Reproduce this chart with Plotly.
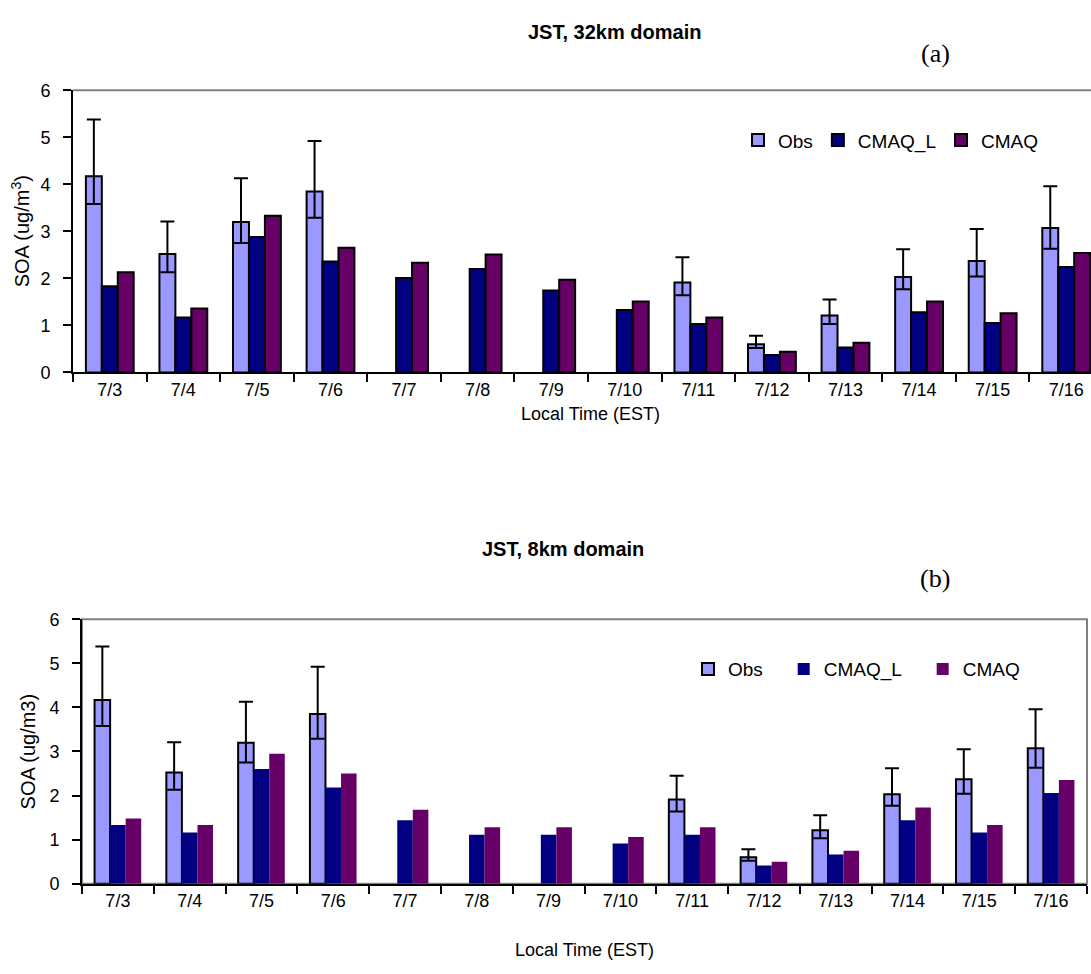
import plotly.graph_objects as go

W, H = 1091, 974

dates = ["7/3", "7/4", "7/5", "7/6", "7/7", "7/8", "7/9", "7/10",
         "7/11", "7/12", "7/13", "7/14", "7/15", "7/16"]

obs = [4.17, 2.52, 3.20, 3.85, None, None, None, None, 1.91, 0.60, 1.21, 2.03, 2.37, 3.07]
obs_upper = [5.38, 3.21, 4.13, 4.92, None, None, None, None, 2.45, 0.78, 1.55, 2.62, 3.05, 3.96]
obs_lower = [3.58, 2.13, 2.75, 3.29, None, None, None, None, 1.64, 0.52, 1.03, 1.77, 2.04, 2.63]

cmaq_l_32 = [1.83, 1.17, 2.88, 2.36, 2.01, 2.20, 1.74, 1.33, 1.03, 0.37, 0.53, 1.28, 1.05, 2.24]
cmaq_32 = [2.13, 1.36, 3.33, 2.65, 2.33, 2.51, 1.97, 1.51, 1.17, 0.44, 0.63, 1.51, 1.26, 2.54]
cmaq_l_8 = [1.33, 1.16, 2.60, 2.18, 1.44, 1.11, 1.11, 0.91, 1.11, 0.41, 0.66, 1.44, 1.16, 2.06]
cmaq_8 = [1.48, 1.33, 2.95, 2.50, 1.68, 1.28, 1.28, 1.06, 1.28, 0.50, 0.75, 1.73, 1.33, 2.35]

err_plus = [None if o is None else round(u - o, 3) for o, u in zip(obs, obs_upper)]
err_minus = [None if o is None else round(o - l, 3) for o, l in zip(obs, obs_lower)]

C_OBS, C_L, C_C = "#9999FF", "#000080", "#660066"
FONT = "Liberation Sans, Arial, sans-serif"
SERIF = "Liberation Serif, Times New Roman, serif"
NB = "\u00a0"


def px_x(p):
    return p / W


def px_y(p):
    return 1 - p / H


fig = go.Figure()

err = dict(type="data", symmetric=False, array=err_plus, arrayminus=err_minus,
           color="black", thickness=2, width=7)

# top chart (32 km)
fig.add_trace(go.Bar(x=dates, y=obs, name="Obs", marker=dict(color=C_OBS, line=dict(color="black", width=2)),
                     error_y=err, xaxis="x", yaxis="y", legend="legend"))
fig.add_trace(go.Bar(x=dates, y=cmaq_l_32, name="CMAQ_L", marker=dict(color=C_L, line=dict(color="black", width=2)),
                     xaxis="x", yaxis="y", legend="legend"))
fig.add_trace(go.Bar(x=dates, y=cmaq_32, name="CMAQ", marker=dict(color=C_C, line=dict(color="black", width=2)),
                     xaxis="x", yaxis="y", legend="legend"))

# bottom chart (8 km)
fig.add_trace(go.Bar(x=dates, y=obs, name="Obs" + NB * 3, marker=dict(color=C_OBS, line=dict(color="black", width=2)),
                     error_y=err, xaxis="x2", yaxis="y2", legend="legend2"))
fig.add_trace(go.Bar(x=dates, y=cmaq_l_8, name="CMAQ_L" + NB * 3, marker=dict(color=C_L, line=dict(width=0)),
                     xaxis="x2", yaxis="y2", legend="legend2"))
fig.add_trace(go.Bar(x=dates, y=cmaq_8, name="CMAQ", marker=dict(color=C_C, line=dict(width=0)),
                     xaxis="x2", yaxis="y2", legend="legend2"))

# geometry (pixels)
top_l, top_r, top_t, top_b = 73, 1091, 82, 370
cat_w_top = (1103 - 73) / 14.0
bot_l, bot_r, bot_t, bot_b = 82, 1087, 622, 892

tick_font = dict(family=FONT, size=18, color="black")
xcommon = dict(type="category", showline=True, linecolor="black", linewidth=2,
               ticks="outside", tickson="boundaries", ticklen=8, tickwidth=2, tickcolor="black",
               tickfont=tick_font, showgrid=False, zeroline=False, fixedrange=True)
ycommon = dict(range=[0, 6], dtick=1, showline=True, linecolor="black", linewidth=2,
               ticks="outside", ticklen=8, tickwidth=2, tickcolor="black", ticklabelstandoff=9,
               tickfont=tick_font, showgrid=False, zeroline=False, fixedrange=True)

fig.update_layout(
    width=W, height=H, autosize=False,
    margin=dict(l=0, r=0, t=0, b=0),
    paper_bgcolor="white", plot_bgcolor="white",
    barmode="group", bargap=0.35, bargroupgap=0,
    font=dict(family=FONT, color="black"),
    xaxis=dict(xcommon, domain=[px_x(top_l), px_x(top_r)], anchor="y",
               range=[-0.5, -0.5 + (top_r - top_l) / cat_w_top]),
    yaxis=dict(ycommon, domain=[px_y(top_b), px_y(top_t)], anchor="x"),
    xaxis2=dict(xcommon, domain=[px_x(bot_l), px_x(bot_r)], anchor="y2", range=[-0.5, 13.5]),
    yaxis2=dict(ycommon, domain=[px_y(bot_b), px_y(bot_t)], anchor="x2"),
    legend=dict(orientation="h", x=px_x(738), y=px_y(133), xanchor="left", yanchor="middle",
                font=dict(family=FONT, size=19, color="black"), bgcolor="rgba(0,0,0,0)"),
    legend2=dict(orientation="h", x=px_x(688), y=px_y(673), xanchor="left", yanchor="middle",
                 font=dict(family=FONT, size=19, color="black"), bgcolor="rgba(0,0,0,0)"),
    showlegend=True,
)

# plot-area borders (grey)
fig.add_shape(type="line", xref="paper", yref="paper",
              x0=px_x(top_l), x1=1, y0=px_y(top_t), y1=px_y(top_t),
              line=dict(color="#808080", width=2), layer="below")
fig.add_shape(type="rect", xref="paper", yref="paper",
              x0=px_x(bot_l), x1=px_x(bot_r), y0=px_y(bot_b), y1=px_y(bot_t),
              line=dict(color="#808080", width=2), layer="below")


def note(text, x, y, size, family=FONT, angle=0):
    return dict(text=text, x=px_x(x), y=px_y(y), xref="paper", yref="paper",
                showarrow=False, xanchor="center", yanchor="middle", textangle=angle,
                font=dict(family=family, size=size, color="black"))


ann = [
    note("<b>JST, 32km domain</b>", 614, 22, 20),
    note("(a)", 935, 44, 26, SERIF),
    note("<b>JST, 8km domain</b>", 563, 550, 20),
    note("(b)", 935, 580, 26, SERIF),
    note("SOA (ug/m<sup>3</sup>)", 20, 226, 20, angle=-90),
    note("SOA (ug/m3)", 28, 757, 20, angle=-90),
    note("Local Time (EST)", 590, 412, 18),
    note("Local Time (EST)", 584, 960, 18),
]
fig.update_layout(annotations=ann)

fig.write_html("out.html")
